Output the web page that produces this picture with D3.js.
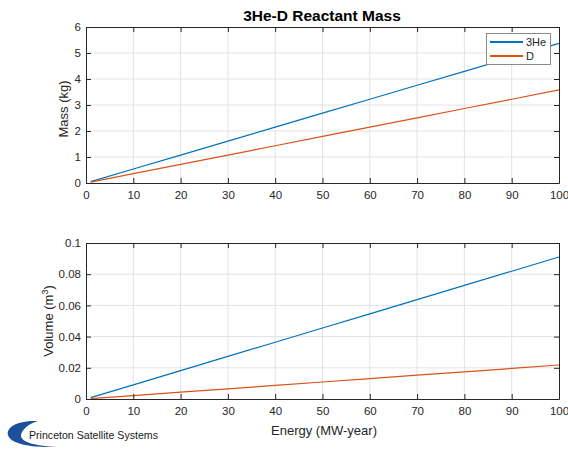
<!DOCTYPE html>
<html>
<head>
<meta charset="utf-8">
<script src="https://cdn.jsdelivr.net/npm/d3@7"></script>
<style>
  body { margin: 0; background: #fff; }
  svg { display: block; font-family: "Liberation Sans", Arial, Helvetica, sans-serif; }
</style>
</head>
<body>
<svg id="chart" width="568" height="449"></svg>
<script>
// Energy delivered (MW-year) and reactant inventory for the 3He-D reaction
const energy = [1, 10, 20, 30, 40, 50, 60, 70, 80, 90, 100];
const massHe3 = [0.054, 0.537, 1.074, 1.611, 2.148, 2.685, 3.222, 3.759, 4.296, 4.833, 5.37];
const massD   = [0.036, 0.358, 0.716, 1.074, 1.432, 1.79, 2.148, 2.506, 2.864, 3.222, 3.58];
const volHe3  = [0.00091, 0.0091, 0.0182, 0.0273, 0.0364, 0.0455, 0.0546, 0.0637, 0.0728, 0.0819, 0.091];
const volD    = [0.00022, 0.0022, 0.0044, 0.0065, 0.0087, 0.0109, 0.0131, 0.0153, 0.0174, 0.0196, 0.0218];

const xTicks = [0, 10, 20, 30, 40, 50, 60, 70, 80, 90, 100];
const massTicks = [0, 1, 2, 3, 4, 5, 6];
const volTicks = [0, 0.02, 0.04, 0.06, 0.08, 0.1];
const seriesNames = ["3He", "D"];
const colors = ["#0072BD", "#D95319"];

const svg = d3.select("#chart");
const left = 86, right = 559;

const x = d3.scaleLinear().domain([0, 100]).range([left, right]);

function panel(top, bottom, yDomain, yTicks, series, tickFmt) {
  const y = d3.scaleLinear().domain(yDomain).range([bottom, top]);
  const g = svg.append("g");

  // grid
  g.selectAll(".gx").data(xTicks.slice(1, -1)).join("line")
    .attr("x1", d => x(d)).attr("x2", d => x(d))
    .attr("y1", top).attr("y2", bottom)
    .attr("stroke", "#e3e3e3").attr("stroke-width", 1);
  g.selectAll(".gy").data(yTicks.slice(1, -1)).join("line")
    .attr("x1", left).attr("x2", right)
    .attr("y1", d => y(d)).attr("y2", d => y(d))
    .attr("stroke", "#e3e3e3").attr("stroke-width", 1);

  // series
  const line = d3.line().x((d, i) => x(energy[i])).y(d => y(d));
  series.forEach((s, k) => {
    g.append("path").datum(s).attr("d", line)
      .attr("fill", "none").attr("stroke", colors[k]).attr("stroke-width", 1.2);
  });

  // axes (box with inward ticks)
  const tl = 5;
  const axB = d3.axisBottom(x).tickValues(xTicks).tickSizeInner(-tl).tickSizeOuter(0).tickPadding(8);
  const axT = d3.axisTop(x).tickValues(xTicks).tickSizeInner(-tl).tickSizeOuter(0).tickFormat("");
  const axL = d3.axisLeft(y).tickValues(yTicks).tickSizeInner(-tl).tickSizeOuter(0).tickPadding(5).tickFormat(tickFmt);
  const axR = d3.axisRight(y).tickValues(yTicks).tickSizeInner(-tl).tickSizeOuter(0).tickFormat("");
  [[axB, `translate(0,${bottom})`], [axT, `translate(0,${top})`],
   [axL, `translate(${left},0)`], [axR, `translate(${right},0)`]].forEach(([a, t]) => {
    const ga = g.append("g").attr("transform", t).call(a);
    ga.select(".domain").attr("stroke", "#262626").attr("stroke-width", 1);
    ga.selectAll(".tick line").attr("stroke", "#262626");
    ga.selectAll("text").attr("fill", "#262626").attr("font-size", 11.5)
      .style("font-family", '"Liberation Sans", Arial, sans-serif');
  });
  return y;
}

panel(27, 183, [0, 6], massTicks, [massHe3, massD], d3.format("d"));
panel(243, 399, [0, 0.1], volTicks, [volHe3, volD], d => d === 0 ? "0" : String(d));

// title
svg.append("text").attr("x", 322).attr("y", 21).attr("text-anchor", "middle")
  .attr("font-size", 15.5).attr("font-weight", "bold").attr("fill", "#000")
  .text("3He-D Reactant Mass");

// axis labels
svg.append("text").attr("transform", "translate(68,109) rotate(-90)")
  .attr("text-anchor", "middle").attr("font-size", 13).attr("fill", "#262626")
  .text("Mass (kg)");
const vl = svg.append("text").attr("transform", "translate(53,321) rotate(-90)")
  .attr("text-anchor", "middle").attr("font-size", 13).attr("fill", "#262626");
vl.append("tspan").text("Volume (m");
vl.append("tspan").attr("dy", -5).attr("font-size", 9).text("3");
vl.append("tspan").attr("dy", 5).text(")");
svg.append("text").attr("x", 324).attr("y", 435).attr("text-anchor", "middle")
  .attr("font-size", 13).attr("fill", "#262626").text("Energy (MW-year)");

// legend
const lg = svg.append("g");
lg.append("rect").attr("x", 486.5).attr("y", 33.5).attr("width", 64).attr("height", 31)
  .attr("fill", "#fff").attr("stroke", "#8a8a8a").attr("stroke-width", 1);
seriesNames.forEach((n, k) => {
  const yy = 42 + k * 14;
  lg.append("line").attr("x1", 490).attr("x2", 523).attr("y1", yy).attr("y2", yy)
    .attr("stroke", colors[k]).attr("stroke-width", 2);
  lg.append("text").attr("x", 526).attr("y", yy + 4).attr("font-size", 11)
    .attr("fill", "#262626").text(n);
});

// company mark
const logo = svg.append("g");
logo.append("path")
  .attr("d", "M38,421 C18,420 6,427 8,435 C10,442 24,448 58,447 C32,446 20,441 21,435 C22,429 30,423 38,421 Z")
  .attr("fill", "#1c4f9c");
logo.append("text").attr("x", 29).attr("y", 439).attr("font-size", 10.6)
  .attr("fill", "#1a1a1a").text("Princeton Satellite Systems");
</script>
</body>
</html>
